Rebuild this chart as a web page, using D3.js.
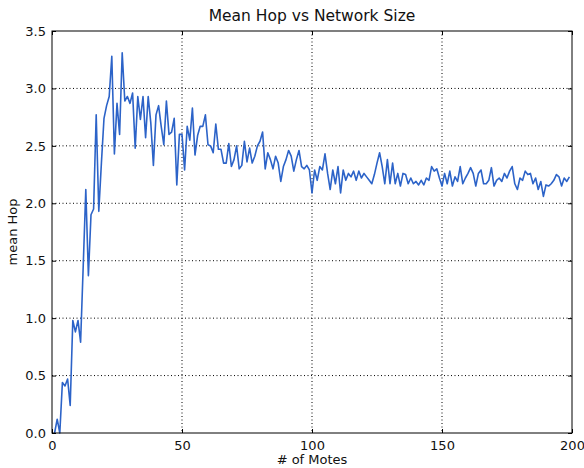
<!DOCTYPE html>
<html lang="en">
<head>
<meta charset="UTF-8">
<title>Mean Hop vs Network Size</title>
<script src="https://d3js.org/d3.v7.min.js"></script>
<style>
  body { margin: 0; background: #fff; }
  text { font-family: "DejaVu Sans", sans-serif; fill: #111; }
</style>
</head>
<body>
<svg width="584" height="468"></svg>
<script>
    // mean hop count for each network size (1..199 motes)
    const motes = d3.range(1, 200);
    const meanHop = [
        0.00, 0.12, 0.00, 0.44, 0.41, 0.47, 0.24, 0.98, 0.88, 0.98,
        0.79, 1.45, 2.12, 1.37, 1.90, 1.95, 2.77, 1.93, 2.35, 2.74,
        2.85, 2.93, 3.28, 2.43, 2.87, 2.60, 3.31, 2.89, 2.93, 2.87,
        2.96, 2.48, 2.93, 2.73, 2.93, 2.57, 2.93, 2.70, 2.33, 2.77,
        2.85, 2.67, 2.51, 2.89, 2.60, 2.62, 2.74, 2.16, 2.60, 2.60,
        2.29, 2.67, 2.55, 2.83, 2.42, 2.59, 2.67, 2.67, 2.77, 2.51,
        2.50, 2.44, 2.69, 2.47, 2.47, 2.35, 2.35, 2.52, 2.32, 2.38,
        2.50, 2.30, 2.33, 2.54, 2.36, 2.48, 2.35, 2.41, 2.50, 2.54,
        2.62, 2.30, 2.44, 2.38, 2.30, 2.41, 2.35, 2.19, 2.32, 2.38,
        2.46, 2.41, 2.28, 2.38, 2.46, 2.32, 2.30, 2.33, 2.29, 2.09,
        2.29, 2.20, 2.32, 2.29, 2.43, 2.26, 2.12, 2.29, 2.17, 2.32,
        2.09, 2.29, 2.20, 2.26, 2.23, 2.28, 2.20, 2.28, 2.22, 2.26,
        2.23, 2.20, 2.17, 2.25, 2.35, 2.44, 2.32, 2.17, 2.38, 2.17,
        2.35, 2.17, 2.26, 2.15, 2.26, 2.25, 2.17, 2.22, 2.17, 2.19,
        2.16, 2.20, 2.16, 2.22, 2.20, 2.32, 2.28, 2.30, 2.22, 2.15,
        2.26, 2.17, 2.28, 2.15, 2.23, 2.19, 2.32, 2.17, 2.22, 2.26,
        2.31, 2.26, 2.15, 2.26, 2.29, 2.17, 2.17, 2.20, 2.31, 2.15,
        2.20, 2.22, 2.19, 2.26, 2.22, 2.28, 2.32, 2.17, 2.12, 2.22,
        2.20, 2.28, 2.25, 2.26, 2.17, 2.22, 2.12, 2.19, 2.06, 2.16,
        2.15, 2.17, 2.20, 2.25, 2.23, 2.15, 2.22, 2.19, 2.23
    ];
    const xTicks = [0, 50, 100, 150, 200];
    const yTicks = [0.0, 0.5, 1.0, 1.5, 2.0, 2.5, 3.0, 3.5];

    const data = motes.map((m, i) => ({x: m, y: meanHop[i]}));

    const svg = d3.select("svg"),
        margin = {top: 31, right: 12, bottom: 35, left: 52},
        width = +svg.attr("width") - margin.left - margin.right,
        height = +svg.attr("height") - margin.top - margin.bottom,
        g = svg.append("g").attr("transform", `translate(${margin.left},${margin.top})`);

    const x = d3.scaleLinear().domain([0, 200]).range([0, width]);
    const y = d3.scaleLinear().domain([0, 3.5]).range([height, 0]);

    // dotted grid
    g.append("g").selectAll("line")
        .data(xTicks.slice(1, -1))
        .join("line")
        .attr("x1", d => x(d)).attr("x2", d => x(d))
        .attr("y1", 0).attr("y2", height)
        .attr("stroke", "#000").attr("stroke-width", 1)
        .attr("stroke-dasharray", "1,2.5");
    g.append("g").selectAll("line")
        .data(yTicks.slice(1, -1))
        .join("line")
        .attr("y1", d => y(d)).attr("y2", d => y(d))
        .attr("x1", 0).attr("x2", width)
        .attr("stroke", "#000").attr("stroke-width", 1)
        .attr("stroke-dasharray", "1,2.5");

    const line = d3.line()
        .x(d => x(d.x))
        .y(d => y(d.y));

    g.append("path")
        .datum(data)
        .attr("fill", "none")
        .attr("stroke", "#2c63c8")
        .attr("stroke-width", 1.6)
        .attr("stroke-linejoin", "round")
        .attr("d", line);

    // axes, ticks pointing inward like the old matplotlib style
    const xAxis = g.append("g")
        .attr("transform", `translate(0,${height})`)
        .call(d3.axisBottom(x).tickValues(xTicks).tickFormat(d3.format("d"))
            .tickSizeInner(-4).tickSizeOuter(0).tickPadding(8));
    const yAxis = g.append("g")
        .call(d3.axisLeft(y).tickValues(yTicks).tickFormat(d3.format(".1f"))
            .tickSizeInner(-4).tickSizeOuter(0).tickPadding(6));
    g.append("g")
        .call(d3.axisTop(x).tickValues(xTicks).tickFormat("").tickSizeInner(-4).tickSizeOuter(0));
    g.append("g")
        .attr("transform", `translate(${width},0)`)
        .call(d3.axisRight(y).tickValues(yTicks).tickFormat("").tickSizeInner(-4).tickSizeOuter(0));

    svg.selectAll(".tick text").attr("font-size", 13).attr("font-family", "DejaVu Sans");
    svg.selectAll(".domain").remove();

    g.append("rect")
        .attr("width", width).attr("height", height)
        .attr("fill", "none").attr("stroke", "#000").attr("stroke-width", 1);

    svg.append("text")
        .attr("x", margin.left + width / 2)
        .attr("y", 21)
        .attr("text-anchor", "middle")
        .attr("font-size", 15.5)
        .text("Mean Hop vs Network Size");

    svg.append("text")
        .attr("x", margin.left + width / 2)
        .attr("y", 464)
        .attr("text-anchor", "middle")
        .attr("font-size", 13)
        .text("# of Motes");

    svg.append("text")
        .attr("transform", `translate(17,${margin.top + height / 2}) rotate(-90)`)
        .attr("text-anchor", "middle")
        .attr("font-size", 13)
        .text("mean Hop");
</script>
</body>
</html>
